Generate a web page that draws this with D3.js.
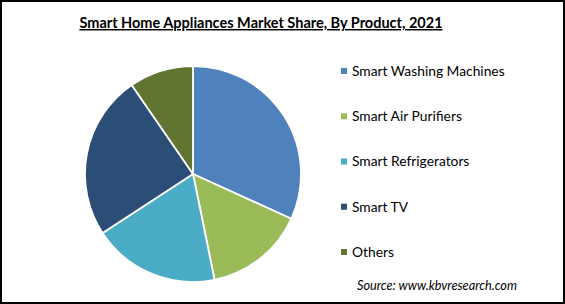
<!DOCTYPE html>
<meta charset="utf-8">
<style>
    body { margin: 0; background: #fff; }
    text { font-family: Lato, sans-serif; fill: #000; }
    .title { font-size: 14.5px; font-weight: bold; text-decoration: underline; }
    .legend text { font-size: 13.8px; }
    .source { font-size: 12.7px; font-style: italic; }
</style>
<svg id="mainSVG" width="565" height="304"></svg>
<script src="https://d3js.org/d3.v7.min.js"></script>
<script>
    var products = ["Smart Washing Machines", "Smart Air Purifiers", "Smart Refrigerators", "Smart TV", "Others"];
    var shares = [31.8, 15.0, 19.0, 24.6, 9.6];
    var colors = ["#4f81bd", "#9bbb59", "#4bacc6", "#2c4d75", "#5f7530"];

    var svg = d3.select("svg"),
        width = +svg.attr("width"),
        height = +svg.attr("height");

    svg.append("rect")
        .attr("x", 1).attr("y", 1)
        .attr("width", width - 2).attr("height", height - 2)
        .attr("fill", "#fff")
        .attr("stroke", "#000")
        .attr("stroke-width", 2);

    svg.append("text")
        .attr("class", "title")
        .attr("x", 261)
        .attr("y", 28)
        .attr("text-anchor", "middle")
        .text("Smart Home Appliances Market Share, By Product, 2021");

    var data = products.map(function (p, i) {
        return { name: p, value: shares[i] };
    });

    var color = d3.scaleOrdinal().domain(products).range(colors);

    var pie = d3.pie()
        .sort(null)
        .value(function (d) { return d.value; });

    var arc = d3.arc()
        .innerRadius(0)
        .outerRadius(108);

    var g = svg.append("g")
        .attr("transform", "translate(193,174)");

    g.selectAll("path")
        .data(pie(data))
        .enter().append("path")
        .attr("d", arc)
        .attr("fill", function (d) { return color(d.data.name); })
        .attr("stroke", "#fff")
        .attr("stroke-width", 1.8)
        .attr("stroke-linejoin", "round");

    var y = d3.scalePoint()
        .domain(products)
        .range([71, 252]);

    var legend = svg.append("g")
        .attr("class", "legend")
        .selectAll("g")
        .data(products)
        .enter().append("g")
        .attr("transform", function (d) { return "translate(341," + y(d) + ")"; });

    legend.append("rect")
        .attr("x", 0)
        .attr("y", -3)
        .attr("width", 6)
        .attr("height", 6)
        .attr("fill", function (d) { return color(d); });

    legend.append("text")
        .attr("x", 11)
        .attr("y", 0)
        .attr("dy", "0.35em")
        .text(function (d) { return d; });

    svg.append("text")
        .attr("class", "source")
        .attr("x", 357)
        .attr("y", 290)
        .text("Source:  www.kbvresearch.com");
</script>
